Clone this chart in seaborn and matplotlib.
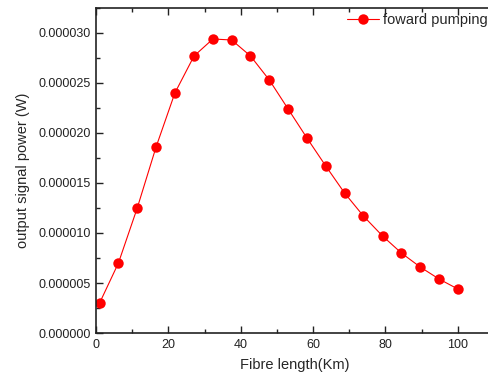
import matplotlib
matplotlib.use("Agg")
import matplotlib.pyplot as plt
import seaborn as sns
import pandas as pd
from matplotlib.ticker import MultipleLocator, FormatStrFormatter

# fibre length (km) and output signal power (W)
fibre_km = [1.0, 6.2, 11.4, 16.6, 21.8, 27.1, 32.3, 37.5, 42.7, 47.9,
            53.1, 58.3, 63.5, 68.7, 73.9, 79.2, 84.4, 89.6, 94.8, 100.0]
power_w = [3.0e-6, 7.0e-6, 12.5e-6, 18.6e-6, 24.0e-6, 27.7e-6, 29.4e-6,
           29.3e-6, 27.7e-6, 25.3e-6, 22.4e-6, 19.5e-6, 16.7e-6, 14.0e-6,
           11.7e-6, 9.7e-6, 8.0e-6, 6.6e-6, 5.4e-6, 4.4e-6]
series_name = "foward pumping"

df = pd.DataFrame({"length": fibre_km, "power": power_w})

sns.set_style("ticks")
plt.rcParams["font.family"] = ["Liberation Sans", "DejaVu Sans"]

fig = plt.figure(figsize=(4.89, 3.79), dpi=100)
# axes runs past the right edge of the picture, as in the reference crop
ax = fig.add_axes([96 / 489, 46 / 379, 398 / 489, 325 / 379])

sns.lineplot(data=df, x="length", y="power", ax=ax, color="#ff0000",
             linewidth=0.8, marker="o", markersize=7.5,
             markeredgewidth=0, label=series_name)

ax.set_xlim(0, 110)
ax.set_ylim(0, 3.25e-5)
ax.xaxis.set_major_locator(MultipleLocator(20))
ax.xaxis.set_minor_locator(MultipleLocator(10))
ax.yaxis.set_major_locator(MultipleLocator(5e-6))
ax.yaxis.set_minor_locator(MultipleLocator(2.5e-6))
ax.yaxis.set_major_formatter(FormatStrFormatter("%.6f"))

ax.tick_params(which="both", direction="in", top=True, right=False,
               labelsize=9, colors="#222222", pad=4, width=1)
ax.tick_params(which="major", length=5)
ax.tick_params(which="minor", length=3)
for side in ["left", "bottom", "top"]:
    ax.spines[side].set_linewidth(1.2)
    ax.spines[side].set_color("#222222")
ax.spines["right"].set_visible(False)

ax.set_xlabel("Fibre length(Km)", fontsize=10.5, labelpad=5)
ax.set_ylabel("output signal power (W)", fontsize=10.5, labelpad=6)

# legend kept just inside the picture so its text is not cut
leg = ax.legend(loc="center left", bbox_to_anchor=((347 - 96) / 398, (379 - 20 - 46) / 325),
                frameon=False, fontsize=10.5, handlelength=2.2,
                handletextpad=0.3, borderaxespad=0, borderpad=0)

fig.savefig("out.png", dpi=100)
